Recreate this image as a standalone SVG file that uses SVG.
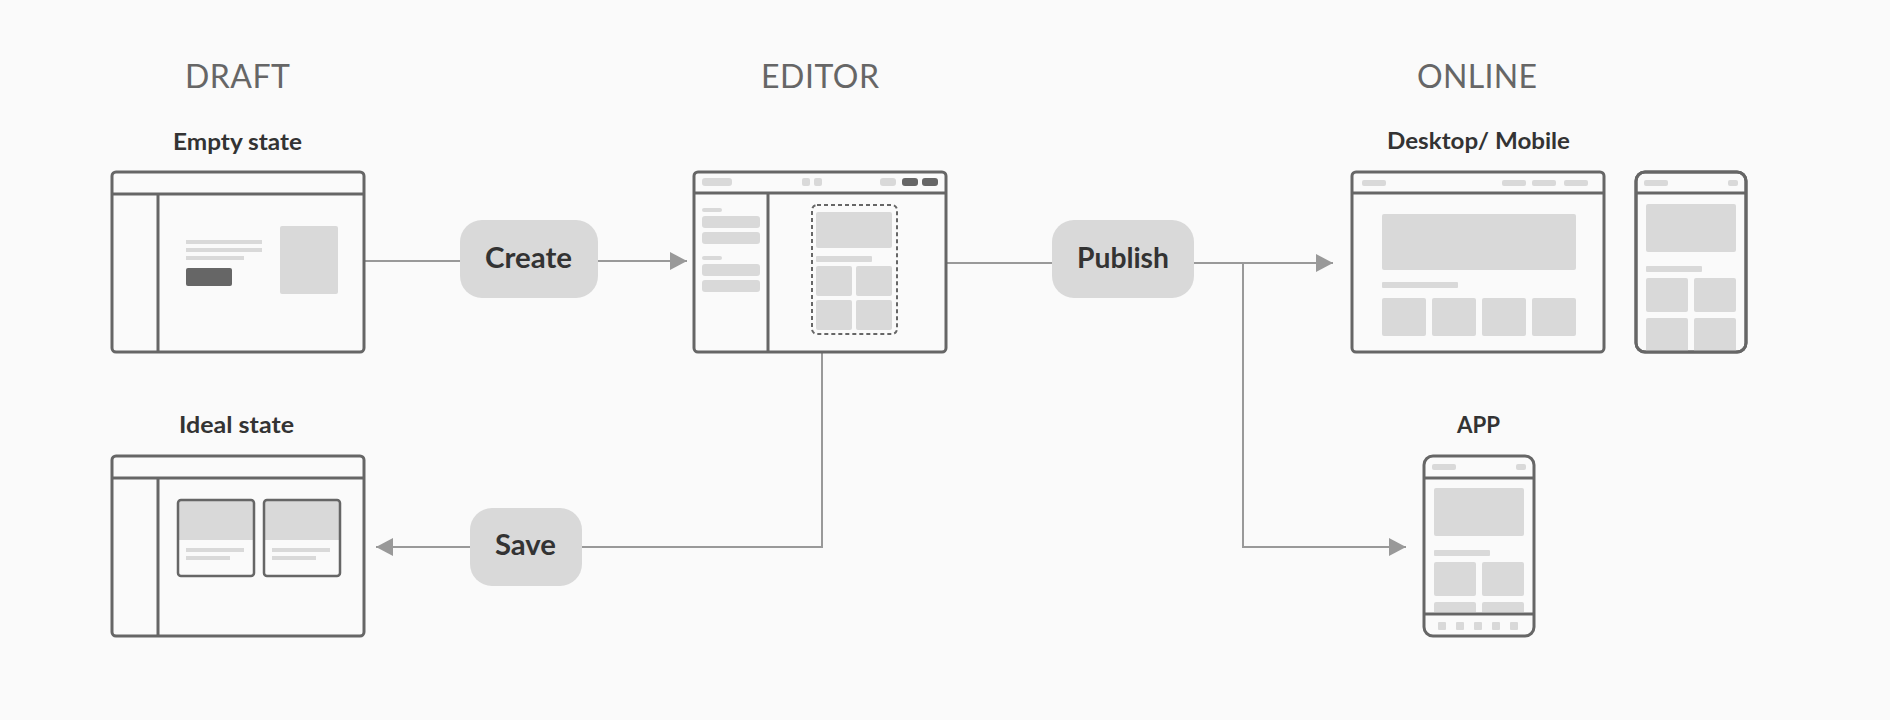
<svg xmlns="http://www.w3.org/2000/svg" width="1890" height="720" viewBox="0 0 1890 720">
<defs>
<style>
.bg{fill:#fafafa}
.win{fill:#fafafa;stroke:#666;stroke-width:3}
.div{stroke:#666;stroke-width:3;fill:none}
.ph{fill:#d9d9d9}
.dk{fill:#666}
.pill{fill:#d9d9d9}
.conn{stroke:#999;stroke-width:2;fill:none}
.h{font-family:Lato,"Open Sans",sans-serif;font-weight:400;font-size:32px;fill:#666;text-anchor:middle}
.sub{font-family:Lato,"Open Sans",sans-serif;font-weight:700;font-size:23px;fill:#333;text-anchor:middle}
.pt{font-family:Lato,"Open Sans",sans-serif;font-weight:700;font-size:28px;fill:#333;text-anchor:middle}
.dash{fill:none;stroke:#666;stroke-width:2;stroke-dasharray:4 3}
</style>
<marker id="arr" markerUnits="userSpaceOnUse" markerWidth="18" markerHeight="18" refX="17" refY="9" orient="auto">
<path d="M0,0 L17,9 L0,18 z" fill="#999"/>
</marker>
<clipPath id="mobClip"><rect x="1637" y="194" width="108" height="157"/></clipPath>
<clipPath id="appClip"><rect x="1425" y="479" width="108" height="133"/></clipPath>
</defs>
<rect class="bg" x="0" y="0" width="1890" height="720"/>

<g id="labels">
<text class="h" x="237.5" y="88" textLength="105" lengthAdjust="spacing">DRAFT</text>
<text class="h" x="820" y="88" textLength="118" lengthAdjust="spacing">EDITOR</text>
<text class="h" x="1477" y="88" textLength="120" lengthAdjust="spacing">ONLINE</text>
<text class="sub" x="237.5" y="150" textLength="129" lengthAdjust="spacingAndGlyphs">Empty state</text>
<text class="sub" x="236.5" y="433" textLength="115" lengthAdjust="spacingAndGlyphs">Ideal state</text>
<text class="sub" x="1478.5" y="149" textLength="183" lengthAdjust="spacingAndGlyphs">Desktop/ Mobile</text>
<text class="sub" x="1478.5" y="433" textLength="43" lengthAdjust="spacingAndGlyphs">APP</text>
</g>

<g id="connectors">
<line class="conn" x1="365" y1="261" x2="460" y2="261"/>
<line class="conn" x1="598" y1="261" x2="687" y2="261" marker-end="url(#arr)"/>
<line class="conn" x1="947" y1="263" x2="1052" y2="263"/>
<line class="conn" x1="1194" y1="263" x2="1333" y2="263" marker-end="url(#arr)"/>
<polyline class="conn" points="1243,263 1243,547 1406,547" marker-end="url(#arr)"/>
<polyline class="conn" points="822,345 822,547 582,547"/>
<line class="conn" x1="470" y1="547" x2="376" y2="547" marker-end="url(#arr)"/>
</g>

<g id="empty-state">
<rect class="win" x="112" y="172" width="252" height="180" rx="4"/>
<line class="div" x1="112" y1="194" x2="364" y2="194"/>
<line class="div" x1="158" y1="194" x2="158" y2="352"/>
<rect class="ph" x="186" y="240" width="76" height="4"/>
<rect class="ph" x="186" y="248" width="76" height="4"/>
<rect class="ph" x="186" y="256" width="58" height="4"/>
<rect class="dk" x="186" y="268" width="46" height="18" rx="2"/>
<rect class="ph" x="280" y="226" width="58" height="68" rx="2"/>
</g>

<g id="create">
<rect class="pill" x="460" y="220" width="138" height="78" rx="22"/>
<text class="pt" x="528.5" y="268" textLength="87" lengthAdjust="spacingAndGlyphs">Create</text>
</g>

<g id="editor">
<rect class="win" x="694" y="172" width="252" height="180" rx="4"/>
<line class="div" x1="694" y1="193" x2="946" y2="193"/>
<line class="div" x1="768" y1="193" x2="768" y2="352"/>
<rect class="ph" x="702" y="178" width="30" height="8" rx="3"/>
<rect class="ph" x="802" y="178" width="8" height="8" rx="2"/>
<rect class="ph" x="814" y="178" width="8" height="8" rx="2"/>
<rect class="ph" x="880" y="178" width="16" height="8" rx="3"/>
<rect class="dk" x="902" y="178" width="16" height="8" rx="3"/>
<rect class="dk" x="922" y="178" width="16" height="8" rx="3"/>
<rect class="ph" x="702" y="208" width="20" height="4" rx="2"/>
<rect class="ph" x="702" y="216" width="58" height="12" rx="3"/>
<rect class="ph" x="702" y="232" width="58" height="12" rx="3"/>
<rect class="ph" x="702" y="256" width="20" height="4" rx="2"/>
<rect class="ph" x="702" y="264" width="58" height="12" rx="3"/>
<rect class="ph" x="702" y="280" width="58" height="12" rx="3"/>
<rect class="dash" x="812" y="205" width="85" height="129" rx="5"/>
<rect class="ph" x="816" y="212" width="76" height="36" rx="2"/>
<rect class="ph" x="816" y="256" width="56" height="6" rx="1"/>
<rect class="ph" x="816" y="266" width="36" height="30" rx="2"/>
<rect class="ph" x="856" y="266" width="36" height="30" rx="2"/>
<rect class="ph" x="816" y="300" width="36" height="30" rx="2"/>
<rect class="ph" x="856" y="300" width="36" height="30" rx="2"/>
</g>

<g id="publish">
<rect class="pill" x="1052" y="220" width="142" height="78" rx="22"/>
<text class="pt" x="1123" y="268" textLength="92" lengthAdjust="spacingAndGlyphs">Publish</text>
</g>

<g id="desktop">
<rect class="win" x="1352" y="172" width="252" height="180" rx="4"/>
<line class="div" x1="1352" y1="193" x2="1604" y2="193"/>
<rect class="ph" x="1362" y="180" width="24" height="6" rx="2"/>
<rect class="ph" x="1502" y="180" width="24" height="6" rx="2"/>
<rect class="ph" x="1532" y="180" width="24" height="6" rx="2"/>
<rect class="ph" x="1564" y="180" width="24" height="6" rx="2"/>
<rect class="ph" x="1382" y="214" width="194" height="56" rx="2"/>
<rect class="ph" x="1382" y="282" width="76" height="6" rx="1"/>
<rect class="ph" x="1382" y="298" width="44" height="38" rx="2"/>
<rect class="ph" x="1432" y="298" width="44" height="38" rx="2"/>
<rect class="ph" x="1482" y="298" width="44" height="38" rx="2"/>
<rect class="ph" x="1532" y="298" width="44" height="38" rx="2"/>
</g>

<g id="mobile">
<rect class="win" x="1636" y="172" width="110" height="180" rx="9"/>
<g clip-path="url(#mobClip)">
<rect class="ph" x="1646" y="204" width="90" height="48" rx="2"/>
<rect class="ph" x="1646" y="266" width="56" height="6" rx="1"/>
<rect class="ph" x="1646" y="278" width="42" height="34" rx="2"/>
<rect class="ph" x="1694" y="278" width="42" height="34" rx="2"/>
<rect class="ph" x="1646" y="318" width="42" height="40" rx="2"/>
<rect class="ph" x="1694" y="318" width="42" height="40" rx="2"/>
</g>
<rect class="win" x="1636" y="172" width="110" height="180" rx="9" style="fill:none"/>
<line class="div" x1="1636" y1="193" x2="1746" y2="193"/>
<rect class="ph" x="1644" y="180" width="24" height="6" rx="2"/>
<rect class="ph" x="1728" y="180" width="10" height="6" rx="2"/>
</g>

<g id="ideal-state">
<rect class="win" x="112" y="456" width="252" height="180" rx="4"/>
<line class="div" x1="112" y1="478" x2="364" y2="478"/>
<line class="div" x1="158" y1="478" x2="158" y2="636"/>
<rect class="ph" x="178" y="500" width="76" height="40"/>
<rect class="win" x="178" y="500" width="76" height="76" rx="3" style="fill:none;stroke-width:2.5"/>
<rect class="ph" x="186" y="548" width="58" height="4"/>
<rect class="ph" x="186" y="556" width="44" height="4"/>
<rect class="ph" x="264" y="500" width="76" height="40"/>
<rect class="win" x="264" y="500" width="76" height="76" rx="3" style="fill:none;stroke-width:2.5"/>
<rect class="ph" x="272" y="548" width="58" height="4"/>
<rect class="ph" x="272" y="556" width="44" height="4"/>
</g>

<g id="save">
<rect class="pill" x="470" y="508" width="112" height="78" rx="22"/>
<text class="pt" x="525.5" y="555" textLength="61" lengthAdjust="spacingAndGlyphs">Save</text>
</g>

<g id="app">
<rect class="win" x="1424" y="456" width="110" height="180" rx="9"/>
<g clip-path="url(#appClip)">
<rect class="ph" x="1434" y="488" width="90" height="48" rx="2"/>
<rect class="ph" x="1434" y="550" width="56" height="6" rx="1"/>
<rect class="ph" x="1434" y="562" width="42" height="34" rx="2"/>
<rect class="ph" x="1482" y="562" width="42" height="34" rx="2"/>
<rect class="ph" x="1434" y="602" width="42" height="20" rx="2"/>
<rect class="ph" x="1482" y="602" width="42" height="20" rx="2"/>
</g>
<line class="div" x1="1424" y1="478" x2="1534" y2="478"/>
<line class="div" x1="1424" y1="614" x2="1534" y2="614"/>
<rect class="ph" x="1432" y="464" width="24" height="6" rx="2"/>
<rect class="ph" x="1516" y="464" width="10" height="6" rx="2"/>
<rect class="ph" x="1438" y="622" width="8" height="8" rx="1"/>
<rect class="ph" x="1456" y="622" width="8" height="8" rx="1"/>
<rect class="ph" x="1474" y="622" width="8" height="8" rx="1"/>
<rect class="ph" x="1492" y="622" width="8" height="8" rx="1"/>
<rect class="ph" x="1510" y="622" width="8" height="8" rx="1"/>
</g>
</svg>
